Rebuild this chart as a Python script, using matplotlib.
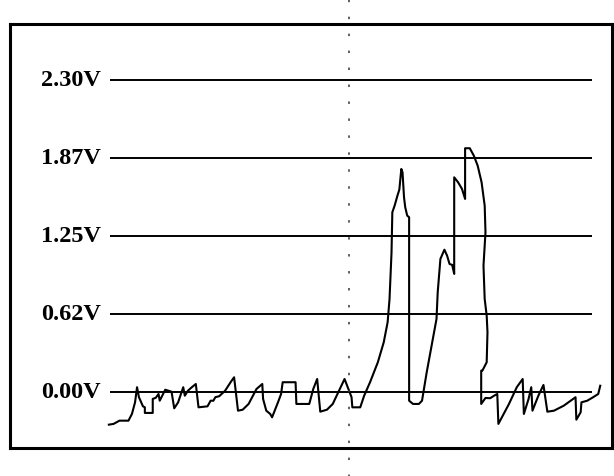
import matplotlib
matplotlib.use('Agg')
import matplotlib.pyplot as plt

# scope trace: time (arbitrary units) and volts
time = [0.9, 5.6, 11.5, 20.5, 24, 27.1, 29.1, 31, 35, 36.9, 36.9, 44.8, 44.8, 47.9, 50.6, 51.8,
        57.3, 60.4, 63.6, 66.3, 70.2, 75.3, 76.9, 80, 83.9, 87.9, 90.6, 99.6, 102.7, 105.5,
        107.4, 111.3, 117.2, 123.1, 126.2, 130.1, 134.8, 140.7, 148.6, 154.4, 155.2, 158.4,
        162.3, 164.2, 170.1, 173.2, 174.8, 187.7, 188.5, 201.4, 205.4, 209.3, 212.4, 219.1,
        224.9, 232, 236.7, 240.6, 243.7, 244.5, 252.4, 256.3, 262.2, 270, 275.9, 279.8,
        281.7, 283.7, 284.5, 286.8, 289.6, 291.5, 293.5, 294.7, 296.2, 297.4, 299.4, 301.3,
        301.3, 305.2, 311.1, 314.2, 318.9, 328.7, 329.9, 332.6, 336.6, 339.3, 341.7, 344.4,
        346.4, 346.4, 350.3, 354.2, 357.3, 357.3, 362, 366, 369.9, 373.8, 376.9, 377.7,
        375.7, 376.9, 378.9, 379.7, 378.9, 374.6, 373.4, 373.4, 377.7, 382.4, 386.3, 389.5,
        390.6, 401.2, 409, 414.9, 416.1, 420.8, 423.5, 424.7, 430.6, 435.7, 439.6, 446.2,
        456, 467.8, 468.6, 472.9, 473.7, 479.5, 485.4, 490.5, 492.5]
volts = [-0.262, -0.256, -0.230, -0.230, -0.176, -0.083, 0.038, -0.042, -0.115, -0.123, -0.168,
         -0.168, -0.056, -0.046, -0.016, -0.070, 0.018, 0.010, 0.002, -0.131, -0.083, 0.038,
         -0.030, 0.010, 0.038, 0.064, -0.123, -0.115, -0.070, -0.070, -0.042, -0.034, 0.010,
         0.083, 0.118, -0.150, -0.142, -0.096, 0.024, 0.064, -0.056, -0.150, -0.176, -0.203,
         -0.083, -0.016, 0.078, 0.078, -0.096, -0.096, 0.024, 0.104, -0.158, -0.142, -0.096,
         0.024, 0.104, 0.024, -0.042, -0.123, -0.123, -0.030, 0.078, 0.238, 0.398, 0.559,
         0.745, 1.119, 1.440, 1.493, 1.573, 1.621, 1.787, 1.760, 1.560, 1.480, 1.413, 1.400,
         -0.070, -0.096, -0.096, -0.070, 0.158, 0.585, 0.799, 1.066, 1.140, 1.092, 1.026,
         1.018, 0.946, 1.720, 1.680, 1.627, 1.547, 1.953, 1.953, 1.894, 1.813, 1.680, 1.493,
         1.280, 1.012, 0.745, 0.611, 0.479, 0.238, 0.171, 0.171, -0.096, -0.048, -0.050,
         -0.030, -0.016, -0.256, -0.096, 0.038, 0.104, -0.176, -0.056, 0.038, -0.150, -0.030,
         0.056, -0.158, -0.150, -0.110, -0.042, -0.222, -0.163, -0.083, -0.070, -0.042,
         -0.016, 0.050]

levels = [0.0, 0.625, 1.25, 1.875, 2.5]
level_labels = ['0.00V', '0.62V', '1.25V', '1.87V', '2.30V']
cursor_t = 241.4

fig = plt.figure(figsize=(6.14, 4.77), dpi=100)
ax = fig.add_axes([0.0163, 0.0587, 0.980, 0.889])

ax.hlines(levels, 2, 484, color='black', lw=1.4)
for lv, lab in zip(levels, level_labels):
    ax.text(-7, lv, lab, ha='right', va='center', fontsize=17.5, fontweight='bold',
            family=['Liberation Serif', 'DejaVu Serif'])

ax.plot(time, volts, color='black', lw=1.5)

# dotted cursor runs past the frame
ax.axvline(cursor_t, ymin=-0.07, ymax=1.07, clip_on=False, color='#333333',
           lw=1.1, linestyle=(0, (1.6, 9.5)))

ax.set_xlim(-98, 504)
ax.set_ylim(-0.449, 2.949)
ax.set_xticks([])
ax.set_yticks([])
for s in ax.spines.values():
    s.set_linewidth(2.2)

fig.savefig('out.png', dpi=100)
